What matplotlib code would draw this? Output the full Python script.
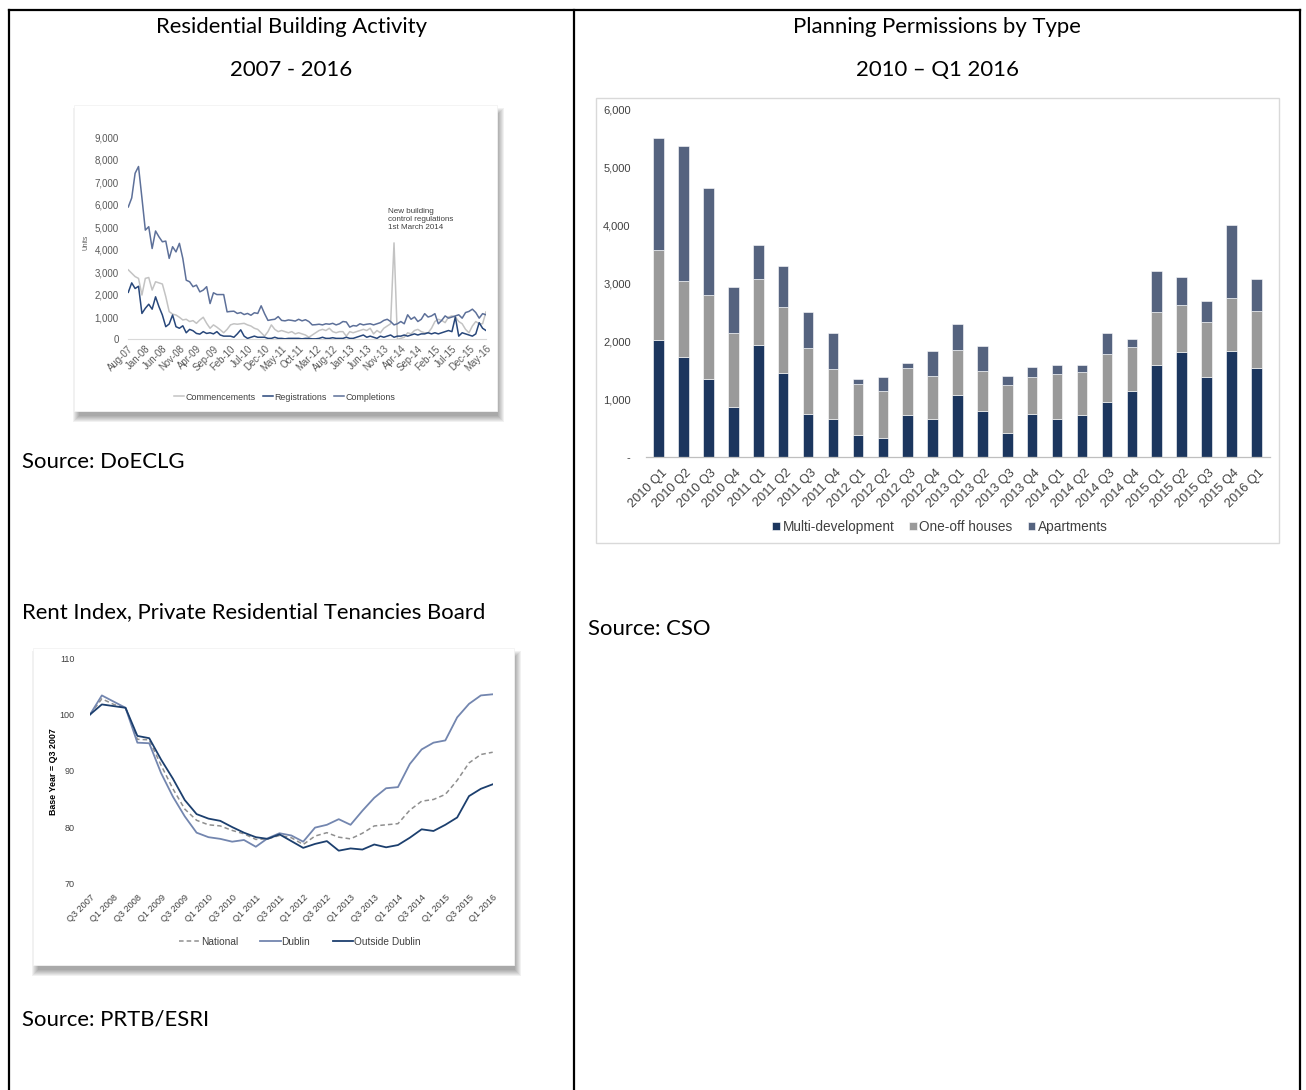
import matplotlib
matplotlib.use("Agg")
import matplotlib.pyplot as plt
import matplotlib.transforms as mtrans
from matplotlib.patches import Rectangle
from matplotlib.lines import Line2D
from matplotlib.ticker import FuncFormatter
import numpy as np
import pandas as pd

plt.rcParams["font.family"] = ["Liberation Sans", "DejaVu Sans"]

# ---------------- data ----------------
# Residential building activity, monthly Aug-07 .. May-16 (units)
months = pd.date_range("2007-08-01", periods=106, freq="MS").strftime("%b-%y").tolist()
commencements = [
    3100, 2950, 2800, 2720, 1980, 2720, 2760, 2200, 2570, 2520,
    2470, 1910, 1240, 1130, 1090, 990, 870, 900, 800, 840,
    720, 870, 990, 720, 500, 650, 550, 430, 300, 450,
    650, 700, 680, 700, 720, 650, 600, 500, 450, 300,
    150, 350, 650, 450, 350, 400, 350, 300, 350, 250,
    300, 250, 200, 100, 200, 300, 400, 450, 400, 500,
    350, 300, 350, 350, 150, 350, 300, 350, 400, 450,
    400, 500, 250, 400, 300, 500, 600, 700, 4300, 0,
    50, 100, 300, 250, 400, 450, 350, 300, 300, 500,
    800, 900, 850, 750, 1000, 1050, 1000, 800, 700, 450,
    300, 600, 800, 700, 700, 1230]
registrations = [
    2100, 2520, 2270, 2370, 1160, 1390, 1570, 1350, 1900, 1460,
    1090, 570, 690, 1090, 570, 500, 610, 300, 450, 390,
    270, 240, 350, 270, 300, 250, 350, 200, 150, 150,
    150, 100, 250, 430, 150, 50, 100, 150, 100, 100,
    100, 50, 50, 100, 50, 50, 30, 50, 50, 50,
    50, 30, 50, 50, 30, 30, 50, 100, 50, 50,
    80, 50, 50, 50, 100, 50, 50, 100, 150, 200,
    100, 150, 100, 50, 150, 100, 150, 200, 100, 150,
    150, 200, 150, 200, 250, 200, 250, 250, 300, 250,
    300, 250, 300, 350, 400, 350, 1000, 150, 300, 250,
    200, 150, 250, 750, 500, 400]
completions = [
    5900, 6300, 7400, 7700, 6300, 4870, 5020, 4050, 4830, 4570,
    4350, 4380, 3610, 4130, 3900, 4280, 3610, 2640, 2570, 2350,
    2420, 2120, 2200, 2350, 1600, 2080, 2000, 2000, 2000, 1230,
    1250, 1260, 1160, 1200, 1110, 1160, 1080, 1190, 1160, 1500,
    1150, 850, 880, 900, 1020, 850, 830, 870, 850, 820,
    900, 830, 880, 800, 650, 660, 680, 650, 700, 680,
    720, 650, 700, 800, 780, 550, 620, 600, 700, 650,
    680, 700, 650, 700, 750, 850, 900, 800, 650, 700,
    800, 700, 1100, 900, 1000, 800, 900, 1150, 1000, 1050,
    1150, 700, 850, 1050, 950, 1000, 1050, 1100, 950, 1200,
    1250, 1350, 1200, 950, 1150, 1100]

# Rent index, quarterly Q3 2007 .. Q1 2016 (Q3 2007 = 100)
rent_quarters = [f"Q{q} {y}" for y in range(2007, 2017) for q in (1, 2, 3, 4)][2:37]
national = [100, 102.8, 101.8, 101.2, 95.6, 95.5, 91.0, 86.8, 83.2, 81.2,
            80.4, 80.2, 79.4, 78.8, 77.8, 77.9, 78.5, 78.1, 76.9, 78.4,
            79.0, 78.2, 77.9, 78.9, 80.2, 80.4, 80.6, 83.0, 84.6, 84.9,
            85.8, 88.3, 91.4, 92.9, 93.3]
dublin = [100, 103.4, 102.3, 101.2, 95.0, 94.9, 89.6, 85.4, 81.9, 79.0,
          78.2, 77.9, 77.4, 77.7, 76.5, 78.0, 78.9, 78.5, 77.4, 79.9,
          80.4, 81.4, 80.4, 82.9, 85.2, 86.9, 87.1, 91.2, 93.8, 95.0,
          95.4, 99.5, 101.9, 103.4, 103.6]
outside_dublin = [100, 101.8, 101.5, 101.2, 96.2, 95.8, 92.0, 88.6, 84.8, 82.3,
                  81.5, 81.1, 80.0, 79.0, 78.2, 77.9, 78.7, 77.5, 76.3, 77.0,
                  77.5, 75.8, 76.2, 76.0, 76.9, 76.4, 76.8, 78.1, 79.6, 79.3,
                  80.4, 81.7, 85.5, 86.8, 87.6]

# Planning permissions by type, 2010 Q1 .. 2016 Q1
permit_quarters = [f"{y} Q{q}" for y in range(2010, 2017) for q in (1, 2, 3, 4)][:25]
multi_development = [2020, 1730, 1360, 860, 1940, 1460, 750, 660, 380, 330,
                     725, 660, 1080, 800, 420, 750, 660, 730, 955, 1150,
                     1600, 1810, 1390, 1830, 1550]
one_off_houses = [1550, 1310, 1450, 1290, 1130, 1130, 1130, 870, 880, 820,
                  810, 750, 765, 685, 825, 640, 770, 750, 825, 750,
                  910, 820, 950, 920, 975]
apartments = [1940, 2340, 1840, 790, 600, 720, 625, 620, 90, 240,
              90, 430, 455, 430, 165, 165, 170, 120, 360, 150,
              700, 480, 360, 1265, 560]

# ---------------- figure & page layout ----------------
W, H = 1306, 1090
fig = plt.figure(figsize=(W / 100, H / 100), dpi=100)
fig.patch.set_facecolor("white")


def fx(x):
    return x / W


def fy(y):
    return 1 - y / H


def axes_px(x0, y0, x1, y1):
    ax = fig.add_axes([x0 / W, 1 - y1 / H, (x1 - x0) / W, (y1 - y0) / H])
    ax.set_facecolor("none")
    return ax


def shadow_panel(x0, y0, x1, y1):
    # soft drop shadow toward the lower right
    for k in range(0, 7):
        fig.add_artist(Rectangle((fx(x0 + 5 - k), fy(y1 + 5 + k)),
                                 (x1 - x0 + 2 * k - 4) / W, (y1 - y0 + 2 * k - 4) / H,
                                 transform=fig.transFigure, facecolor="black",
                                 edgecolor="none", alpha=0.055, zorder=-3))
    fig.add_artist(Rectangle((fx(x0), fy(y1)), (x1 - x0) / W, (y1 - y0) / H,
                             transform=fig.transFigure, facecolor="white",
                             edgecolor="#f2f2f2", lw=0.6, zorder=-2))


# table rules
for (x0, y0, x1, y1) in [(9, 10, 1300, 10), (9, 10, 9, 1090),
                         (574, 10, 574, 1090), (1300, 10, 1300, 1090)]:
    fig.add_artist(Line2D([fx(x0), fx(x1)], [fy(y0), fy(y1)],
                          transform=fig.transFigure, color="black", lw=1.6,
                          solid_capstyle="projecting"))

# page text
page_texts = [
    ("Residential Building Activity", 291, 33, "center"),
    ("2007 - 2016", 291, 76, "center"),
    ("Planning Permissions by Type", 937, 33, "center"),
    ("2010 \u2013 Q1 2016", 937, 76, "center"),
    ("Source: DoECLG", 22, 468, "left"),
    ("Rent Index, Private Residential Tenancies Board", 22, 618, "left"),
    ("Source: PRTB/ESRI", 22, 1025, "left"),
    ("Source: CSO", 588, 635, "left"),
]
text_objs = []
for s, x, y, ha in page_texts:
    text_objs.append(fig.text(fx(x), fy(y), s, ha=ha, va="baseline",
                              fontsize=10, family=["Lato", "DejaVu Sans"], color="black"))
renderer = fig.canvas.get_renderer()
w_ref = text_objs[5].get_window_extent(renderer).width
size = 10 * 463 / w_ref
for t in text_objs:
    t.set_fontsize(size)

TICK = "#595959"


def offset_labels(labels, dx_px, dy_px):
    off = mtrans.ScaledTranslation(dx_px / 100, dy_px / 100, fig.dpi_scale_trans)
    for lbl in labels:
        lbl.set_transform(lbl.get_transform() + off)


# ---------------- chart 1: building activity ----------------
shadow_panel(74, 105, 497, 411)
ax1 = axes_px(128.3, 137.3, 486, 339.5)
xm = np.arange(len(months))
ax1.plot(xm, commencements, color="#c3c3c3", lw=1.1, label="Commencements")
ax1.plot(xm, completions, color="#5d7099", lw=1.1, label="Completions", zorder=3)
ax1.plot(xm, registrations, color="#28477a", lw=1.1, label="Registrations", zorder=4)
ax1.set_xlim(0, len(months) - 1)
ax1.set_ylim(0, 9000)
ax1.set_yticks(np.arange(0, 9001, 1000))
ax1.yaxis.set_major_formatter(FuncFormatter(lambda v, p: f"{int(v):,}"))
ax1.set_xticks(xm[::5])
ax1.set_xticklabels(months[::5], rotation=45, ha="right", va="top",
                    rotation_mode="anchor")
ax1.tick_params(axis="both", length=0, colors=TICK)
ax1.tick_params(axis="y", labelsize=7, pad=7)
ax1.tick_params(axis="x", labelsize=6.9, pad=3)
for sp in ("top", "right", "left"):
    ax1.spines[sp].set_visible(False)
ax1.spines["bottom"].set_color("#d9d9d9")
ax1.text(76.3, 5850, "New building\ncontrol regulations\n1st March 2014",
         ha="left", va="top", fontsize=5.8, color="#404040", linespacing=1.2)
fig.text(fx(86), fy(242), "Units", rotation=90, ha="center", va="center",
         fontsize=4.8, color=TICK)
h1, l1 = ax1.get_legend_handles_labels()
order = [0, 2, 1]
ax1.legend([h1[i] for i in order], [l1[i] for i in order], loc="center",
           bbox_to_anchor=(fx(285), fy(397)), bbox_transform=fig.transFigure,
           ncol=3, frameon=False, fontsize=6.4, handlelength=1.1,
           handletextpad=0.2, columnspacing=0.8, labelcolor="#404040")

# ---------------- chart 2: rent index ----------------
shadow_panel(33, 648, 514, 965)
ax2 = axes_px(90, 658.3, 492.7, 883.3)
xq = np.arange(len(rent_quarters))
ax2.plot(xq, national, color="#8f8f8f", lw=1.1, ls=(0, (3, 2)), label="National")
ax2.plot(xq, dublin, color="#7386af", lw=1.3, label="Dublin")
ax2.plot(xq, outside_dublin, color="#1c3f6e", lw=1.3, label="Outside Dublin")
ax2.set_xlim(0, len(rent_quarters) - 1)
ax2.set_ylim(70, 110)
ax2.set_yticks([70, 80, 90, 100, 110])
ax2.set_xticks(xq[::2])
ax2.set_xticklabels(rent_quarters[::2], rotation=45, ha="right", va="top",
                    rotation_mode="anchor")
ax2.tick_params(axis="both", length=0, colors="#404040")
ax2.tick_params(axis="y", labelsize=6.5, pad=11)
ax2.tick_params(axis="x", labelsize=6.6, pad=7)
for sp in ax2.spines.values():
    sp.set_visible(False)
fig.text(fx(54), fy(772), "Base Year = Q3 2007", rotation=90, ha="center",
         va="center", fontsize=6.4, fontweight="bold", color="black")
ax2.legend(loc="center", bbox_to_anchor=(fx(300), fy(942)),
           bbox_transform=fig.transFigure, ncol=3, frameon=False, fontsize=7.3,
           handlelength=2.0, handletextpad=0.1, columnspacing=2.2,
           labelcolor="#404040")

# ---------------- chart 3: planning permissions ----------------
fig.add_artist(Rectangle((fx(596), fy(543)), (1279 - 596) / W, (543 - 98) / H,
                         transform=fig.transFigure, facecolor="none",
                         edgecolor="#d9d9d9", lw=1.0, zorder=-2))
ax3 = axes_px(646, 109.7, 1270, 457.3)
xb = np.arange(len(permit_quarters))
m = np.array(multi_development)
o = np.array(one_off_houses)
a = np.array(apartments)
bw = 0.42
ax3.bar(xb, m, width=bw, color="#1c365e", edgecolor="white", lw=0.4,
        label="Multi-development")
ax3.bar(xb, o, bottom=m, width=bw, color="#9a9a9a", edgecolor="white", lw=0.4,
        label="One-off houses")
ax3.bar(xb, a, bottom=m + o, width=bw, color="#55637f", edgecolor="white", lw=0.4,
        label="Apartments")
ax3.set_xlim(-0.51, 24.55)
ax3.set_ylim(0, 6000)
ax3.set_yticks(np.arange(0, 6001, 1000))
ax3.yaxis.set_major_formatter(FuncFormatter(lambda v, p: "-" if v == 0 else f"{int(v):,}"))
ax3.set_xticks(xb)
ax3.set_xticklabels(permit_quarters, rotation=45, ha="right", va="top",
                    rotation_mode="anchor")
ax3.tick_params(axis="both", length=0, colors="#404040")
ax3.tick_params(axis="y", labelsize=8, pad=11)
ax3.tick_params(axis="x", labelsize=9.2, pad=7)
offset_labels(ax3.get_xticklabels(), 2, 0)
for sp in ("top", "right", "left"):
    ax3.spines[sp].set_visible(False)
ax3.spines["bottom"].set_color("#bfbfbf")
ax3.spines["bottom"].set_linewidth(0.9)
ax3.legend(loc="center", bbox_to_anchor=(fx(940), fy(527)),
           bbox_transform=fig.transFigure, ncol=3, frameon=False, fontsize=9.8,
           handlelength=0.55, handleheight=0.55, handletextpad=0.2,
           columnspacing=1.1, labelcolor="#404040")

fig.savefig("out.png", dpi=100)
